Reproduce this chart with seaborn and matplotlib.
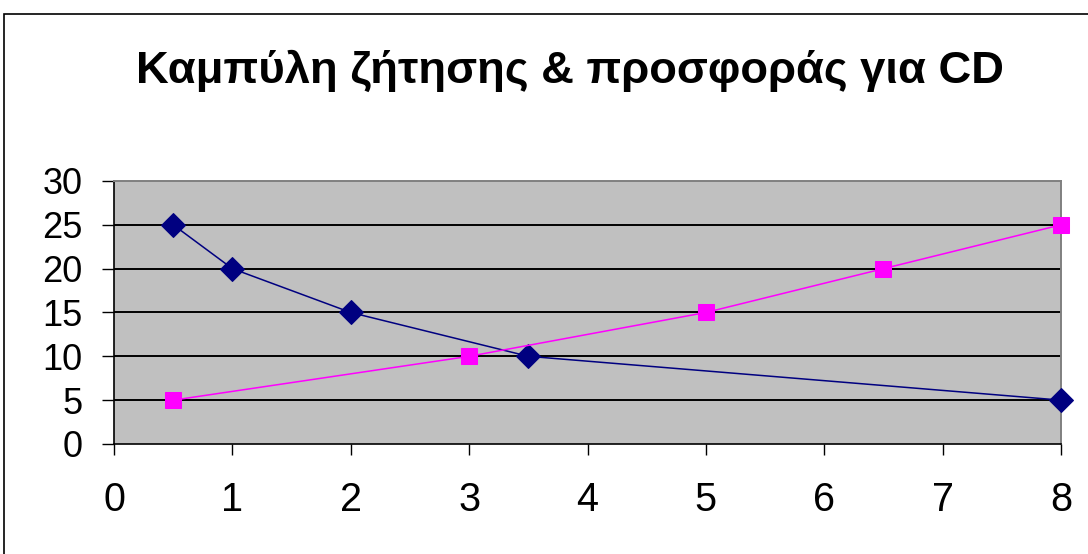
import matplotlib
matplotlib.use("Agg")
import matplotlib.pyplot as plt
import seaborn as sns
import pandas as pd

title = "Καμπύλη ζήτησης & προσφοράς για CD"
demand_x = [0.5, 1, 2, 3.5, 8]
demand_y = [25, 20, 15, 10, 5]
supply_x = [0.5, 3, 5, 6.5, 8]
supply_y = [5, 10, 15, 20, 25]
x_ticks = [0, 1, 2, 3, 4, 5, 6, 7, 8]
y_ticks = [0, 5, 10, 15, 20, 25, 30]

sns.set_style("white")
plt.rcParams['font.family'] = ['Liberation Sans', 'DejaVu Sans']
plt.rcParams['text.color'] = 'black'
plt.rcParams['xtick.color'] = 'black'
plt.rcParams['ytick.color'] = 'black'

fig = plt.figure(figsize=(10.88, 5.54), dpi=100)
ax = fig.add_axes([0.1048, 0.1986, 0.8704, 0.4747])
ax.set_facecolor('#C0C0C0')

# figure frame
fig.patches.append(plt.Rectangle((4/1088, -0.01), 1.02, 1 - 14/554 + 0.01,
                                 transform=fig.transFigure, fill=False,
                                 edgecolor='black', linewidth=1.2))

for yv in y_ticks[1:-1]:
    ax.axhline(yv, color='black', linewidth=1.4, zorder=1)

dfd = pd.DataFrame({'x': demand_x, 'y': demand_y})
dfs = pd.DataFrame({'x': supply_x, 'y': supply_y})
sns.lineplot(data=dfd, x='x', y='y', ax=ax, color='#000080', linewidth=1.1,
             marker='D', markersize=12, markeredgecolor='#000080', sort=False,
             zorder=3, clip_on=False)
sns.lineplot(data=dfs, x='x', y='y', ax=ax, color='#FF00FF', linewidth=1.1,
             marker='s', markersize=11.5, markeredgecolor='#FF00FF', sort=False,
             zorder=3, clip_on=False)

ax.set_xlim(0, 8)
ax.set_ylim(0, 30)
ax.set_xticks(x_ticks)
ax.set_yticks(y_ticks)
ax.set_xlabel('')
ax.set_ylabel('')
ax.tick_params(axis='y', which='both', direction='out', length=8.6, width=1,
               pad=14, labelsize=26, left=True, color='black', labelcolor='black')
ax.tick_params(axis='x', which='both', direction='out', length=8, width=1,
               pad=18.5, labelsize=28.5, bottom=True, color='black', labelcolor='black')

for s in ['top', 'right']:
    ax.spines[s].set_color('#808080')
    ax.spines[s].set_linewidth(1.4)
for s in ['left', 'bottom']:
    ax.spines[s].set_color('black')
    ax.spines[s].set_linewidth(1.2)
    ax.spines[s].set_visible(True)

fig.text(0.524, 1 - 83/554, title, ha='center', va='baseline', fontsize=32.7,
         fontweight='bold', color='black')

fig.savefig('out.png', dpi=100)
